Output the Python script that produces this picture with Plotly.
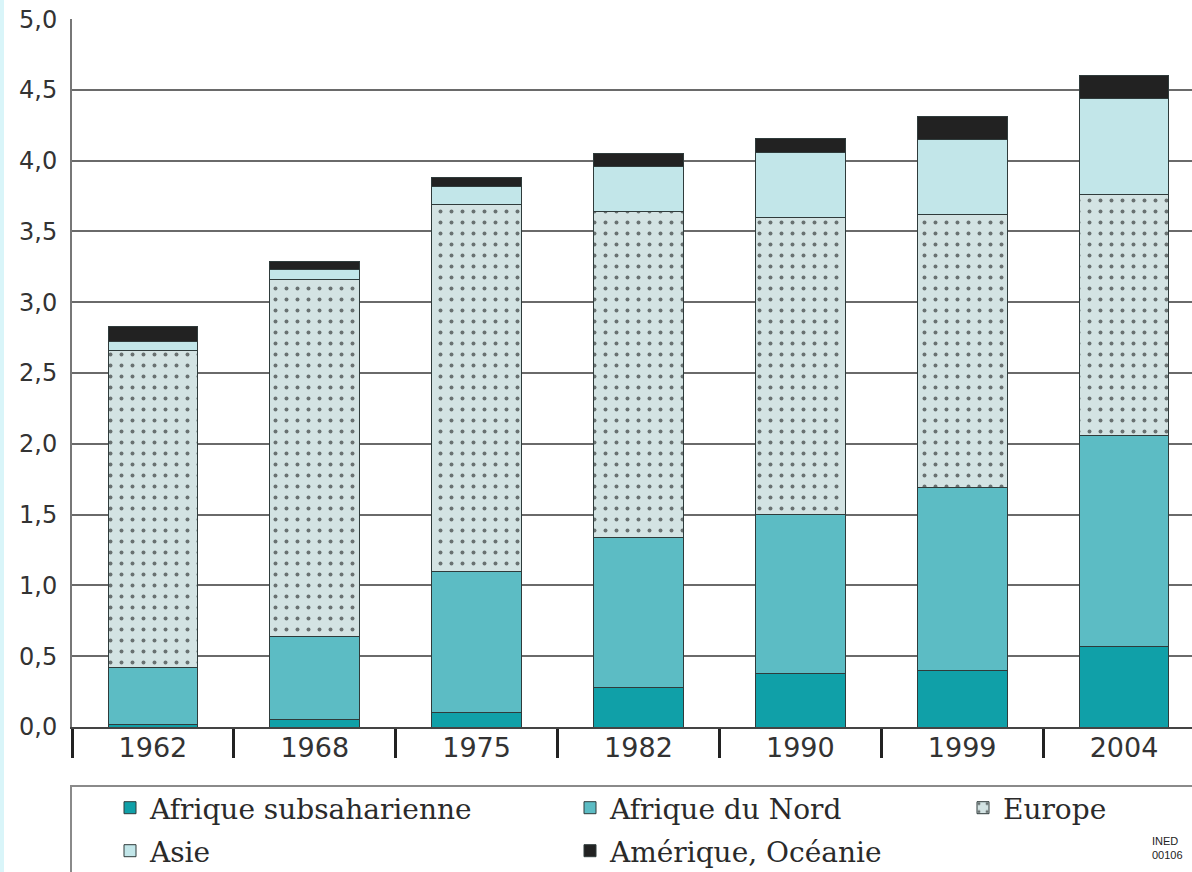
import plotly.graph_objects as go

years = ["1962", "1968", "1975", "1982", "1990", "1999", "2004"]
afrique_sub = [0.02, 0.05, 0.10, 0.28, 0.38, 0.40, 0.57]
afrique_nord = [0.40, 0.59, 1.00, 1.06, 1.12, 1.29, 1.49]
europe = [2.24, 2.52, 2.59, 2.30, 2.10, 1.93, 1.70]
asie = [0.06, 0.07, 0.13, 0.32, 0.46, 0.53, 0.68]
amerique = [0.11, 0.06, 0.06, 0.09, 0.10, 0.16, 0.16]
y_ticks = [0.0, 0.5, 1.0, 1.5, 2.0, 2.5, 3.0, 3.5, 4.0, 4.5, 5.0]

# the page body margin is removed (post_script), so figure pixels = window pixels
W, H = 1192, 872
L, T = 72, 19
B = H - 727
PW = W - L
PH = H - T - B

def px_x(wx):
    return (wx - L) / PW

def px_y(wy):
    return (H - B - wy) / PH

outline = dict(color="#2f3b3b", width=1)
series = [
    ("Afrique subsaharienne", afrique_sub, dict(color="#10a0a8", line=outline), "legend", 150, 808),
    ("Afrique du Nord", afrique_nord, dict(color="#5cbcc4", line=outline), "legend2", 610, 808),
    ("Europe", europe, dict(color="#d3e3e3", line=outline,
                            pattern=dict(shape=".", fgcolor="#000000", size=11,
                                         solidity=0.1, fillmode="overlay")), "legend3", 1003, 808),
    ("Asie", asie, dict(color="#c2e6e9", line=outline), "legend4", 150, 851),
    ("Amérique, Océanie", amerique, dict(color="#222222", line=outline), "legend5", 610, 851),
]

fig = go.Figure()
legend_layouts = {}
for name, vals, marker, lg, tx, ty in series:
    fig.add_trace(go.Bar(x=years, y=vals, name=name, marker=marker, legend=lg))
    legend_layouts[lg] = dict(
        x=px_x(tx - 40), y=px_y(ty), xanchor="left", yanchor="middle",
        xref="paper", yref="paper",
        bgcolor="rgba(0,0,0,0)", borderwidth=0,
        font=dict(family="DejaVu Serif", size=28, color="#2a2a2a"),
    )

fig.update_layout(
    width=W, height=H,
    margin=dict(l=L, r=0, t=T, b=B, autoexpand=False),
    barmode="stack",
    bargap=0.445,
    paper_bgcolor="white",
    plot_bgcolor="white",
    separators=", ",
    showlegend=True,
    **legend_layouts,
)

fig.update_xaxes(
    type="category",
    range=[-0.5, 6.42],
    showgrid=False,
    showline=True, linecolor="#444444", linewidth=2,
    ticks="outside", tickson="boundaries", ticklen=29, tickwidth=3, tickcolor="#222222",
    ticklabelstandoff=-4,
    tickfont=dict(family="DejaVu Sans", size=27, color="#333333"),
    zeroline=False,
)
fig.update_yaxes(
    range=[0, 5.0008],
    tickvals=y_ticks,
    tickformat=".1f",
    ticklabeloverflow="allow",
    showgrid=True, gridcolor="#6a6a6a", gridwidth=1.5,
    showline=True, linecolor="#777777", linewidth=2,
    ticks="", ticklabelstandoff=8,
    tickfont=dict(family="DejaVu Sans", size=24, color="#333333"),
    zeroline=False,
)

# legend frame and left page border tint
fig.add_shape(type="rect", xref="paper", yref="paper",
              x0=px_x(71), x1=px_x(1200), y0=px_y(786), y1=px_y(885),
              line=dict(color="#8a8a8a", width=2), fillcolor="rgba(0,0,0,0)", layer="below")
fig.add_shape(type="rect", xref="paper", yref="paper",
              x0=px_x(0), x1=px_x(4), y0=px_y(0), y1=px_y(H),
              line=dict(width=0), fillcolor="#d9f5f9")
fig.add_annotation(text="INED<br>00106", xref="paper", yref="paper",
                   x=px_x(1150), y=px_y(848), xanchor="left", yanchor="middle",
                   showarrow=False, align="left",
                   font=dict(family="Liberation Sans Narrow, Liberation Sans", size=11, color="#222"))

fig.write_html("out.html",
               config={"displayModeBar": False},
               post_script="document.body.style.margin='0';document.body.style.overflow='hidden';")
